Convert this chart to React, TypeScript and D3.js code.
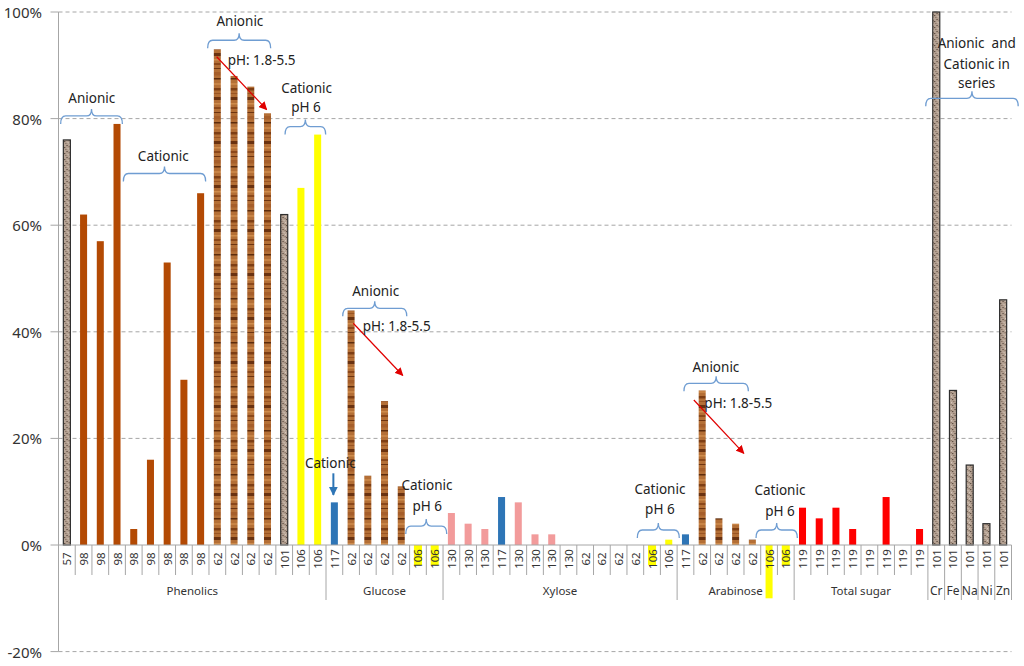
import * as d3 from 'd3';

// categories and values (percent)
const phenolicsCodes = ['57', '98', '98', '98', '98', '98', '98', '98', '98', '62', '62', '62', '62', '101', '106', '106'];
const phenolicsValues = [76, 62, 57, 79, 3, 16, 53, 31, 66, 93, 88, 86, 81, 62, 67, 77];
const glucoseCodes = ['117', '62', '62', '62', '62', '106', '106'];
const glucoseValues = [8, 44, 13, 27, 11, 0, 0];
const xyloseCodes = ['130', '130', '130', '117', '130', '130', '130', '130', '62', '62', '62', '62', '106', '106'];
const xyloseValues = [6, 4, 3, 9, 8, 2, 2, 0, 0, 0, 0, 0, 0, 1];
const arabinoseCodes = ['117', '62', '62', '62', '62', '106', '106'];
const arabinoseValues = [2, 29, 5, 4, 1, -10, 0];
const totalSugarCodes = ['119', '119', '119', '119', '119', '119', '119', '119'];
const totalSugarValues = [7, 5, 7, 3, 0, 9, 0, 3];
const metalNames = ['Cr', 'Fe', 'Na', 'Ni', 'Zn'];
const metalCodes = ['101', '101', '101', '101', '101'];
const metalValues = [100, 29, 15, 4, 46];
const yTicks = [-20, 0, 20, 40, 60, 80, 100];

// annotations, placed in chart units (category index, percent)
const noteTexts = [
    { t: 'Anionic', i: 1.99, v: 83.9 },
    { t: 'Cationic', i: 6.27, v: 73.0 },
    { t: 'Anionic', i: 10.85, v: 98.4 },
    { t: 'pH: 1.8-5.5', i: 12.15, v: 91.0 },
    { t: 'Cationic', i: 14.84, v: 85.8 },
    { t: 'pH 6', i: 14.8, v: 82.1 },
    { t: 'Cationic', i: 16.26, v: 15.4 },
    { t: 'Anionic', i: 18.97, v: 47.7 },
    { t: 'pH: 1.8-5.5', i: 20.23, v: 41.0 },
    { t: 'Cationic', i: 22.04, v: 11.3 },
    { t: 'pH 6', i: 22.06, v: 7.4 },
    { t: 'Cationic', i: 35.97, v: 10.45 },
    { t: 'pH 6', i: 35.97, v: 6.7 },
    { t: 'Anionic', i: 39.32, v: 33.45 },
    { t: 'pH: 1.8-5.5', i: 40.66, v: 26.6 },
    { t: 'Cationic', i: 43.15, v: 10.3 },
    { t: 'pH 6', i: 43.15, v: 6.4 },
    { t: 'Anionic  and', i: 54.92, v: 94.1 },
    { t: 'Cationic in', i: 54.92, v: 90.2 },
    { t: 'series', i: 54.92, v: 86.6 },
];
const noteBraces = [
    { i0: 0.13, i1: 3.82, v: 80.5 },
    { i0: 3.88, i1: 8.8, v: 69.7 },
    { i0: 8.92, i1: 12.69, v: 94.7 },
    { i0: 13.55, i1: 15.98, v: 78.5 },
    { i0: 17.0, i1: 20.83, v: 44.4 },
    { i0: 20.77, i1: 23.22, v: 3.56 },
    { i0: 34.62, i1: 37.13, v: 2.81 },
    { i0: 37.41, i1: 41.26, v: 30.34 },
    { i0: 41.72, i1: 44.19, v: 2.81 },
    { i0: 51.87, i1: 57.4, v: 83.8 },
];
const redArrows = [
    { i0: 9.46, v0: 91.6, i1: 12.45, v1: 81.7 },
    { i0: 17.63, v0: 41.6, i1: 20.59, v1: 31.8 },
    { i0: 38.0, v0: 27.2, i1: 40.99, v1: 17.2 },
];
const blueArrows = [{ i0: 16.44, v0: 13.45, i1: 16.44, v1: 9.4 }];

const FILLS: any = {
    '57': 'url(#granite)',
    '101': 'url(#granite)',
    '98': '#B34A04',
    '62': 'url(#wood)',
    '106': '#FFFF00',
    '117': '#2E75B6',
    '130': '#F29B9B',
    '119': '#FF0000',
};
const FONT = '"Noto Sans", "Open Sans", sans-serif';
const BRACE = '#6F9DD2';

export default function App() {
    const width = 1024;
    const height = 666;
    const left = 58.5;
    const right = 1011.5;

    const groups = [
        { name: 'Phenolics', codes: phenolicsCodes, values: phenolicsValues },
        { name: 'Glucose', codes: glucoseCodes, values: glucoseValues },
        { name: 'Xylose', codes: xyloseCodes, values: xyloseValues },
        { name: 'Arabinose', codes: arabinoseCodes, values: arabinoseValues },
        { name: 'Total sugar', codes: totalSugarCodes, values: totalSugarValues },
        ...metalNames.map((n, k) => ({ name: n, codes: [metalCodes[k]], values: [metalValues[k]] })),
    ];

    const rows: any[] = [];
    const spans: any[] = [];
    groups.forEach((g) => {
        const start = rows.length;
        g.codes.forEach((c, k) => rows.push({ idx: rows.length, code: c, value: g.values[k] }));
        spans.push({ name: g.name, start, end: rows.length });
    });

    const n = rows.length;
    const xBand = d3.scaleBand<number>()
        .domain(rows.map((r) => r.idx))
        .range([left, right])
        .paddingInner(0.58)
        .paddingOuter(0.29);
    const xLin = d3.scaleLinear().domain([0, n]).range([left, right]);
    const y = d3.scaleLinear().domain([-20, 100]).range([651.6, 12]);
    const y0 = y(0);
    const bw = xBand.bandwidth();
    const step = xBand.step();

    const bracePath = (b: any) => {
        const x0 = xLin(b.i0);
        const x1 = xLin(b.i1);
        const yy = y(b.v);
        const xm = (x0 + x1) / 2;
        const r = 5;
        const down = 8;
        const up = 7;
        return `M${x0},${yy + down} Q${x0},${yy} ${x0 + r},${yy} L${xm - r},${yy} Q${xm},${yy} ${xm},${yy - up}`
            + ` Q${xm},${yy} ${xm + r},${yy} L${x1 - r},${yy} Q${x1},${yy} ${x1},${yy + down}`;
    };

    // stripes for the wood fill
    const woodStripes = [
        { y: 0, h: 2.5, c: '#7E3E14' }, { y: 5, h: 1, c: '#9A5423' }, { y: 9, h: 3, c: '#6A3210' },
        { y: 15, h: 1.5, c: '#CF8C4C' }, { y: 19, h: 2, c: '#8C481A' }, { y: 24, h: 1, c: '#6E3410' },
        { y: 28, h: 3.5, c: '#A65E2A' }, { y: 34, h: 1.5, c: '#5E2C0C' }, { y: 39, h: 2, c: '#C88446' },
    ];
    const graniteDots = [
        { x: 0.5, y: 1, c: '#4E3F35' }, { x: 3, y: 0.2, c: '#DCCFC4' }, { x: 4.2, y: 3, c: '#4A3B30' },
        { x: 1.5, y: 4.2, c: '#D6C9BD' }, { x: 2.6, y: 2.1, c: '#7A6656' }, { x: 0.2, y: 5.3, c: '#8A7464' },
        { x: 5.1, y: 5.4, c: '#6A5648' },
    ];

    return (
        <svg width={width} height={height} style={{ position: 'absolute', left: 0, top: 0, fontFamily: FONT }}>
            <defs>
                <pattern id="wood" patternUnits="userSpaceOnUse" width={8} height={44}>
                    <rect width={8} height={44} fill="#B46F36" />
                    {woodStripes.map((s, k) => <rect key={k} x={0} y={s.y} width={8} height={s.h} fill={s.c} />)}
                </pattern>
                <pattern id="granite" patternUnits="userSpaceOnUse" width={6} height={6}>
                    <rect width={6} height={6} fill="#B5A293" />
                    {graniteDots.map((s, k) => <rect key={k} x={s.x} y={s.y} width={1.1} height={1.1} fill={s.c} />)}
                </pattern>
                <marker id="redHead" viewBox="0 0 10 10" refX={9} refY={5} markerWidth={7} markerHeight={7} orient="auto">
                    <path d="M0,0 L10,5 L0,10 z" fill="#E00000" />
                </marker>
                <marker id="blueHead" viewBox="0 0 10 10" refX={9} refY={5} markerWidth={4.5} markerHeight={4.5} orient="auto">
                    <path d="M0,0 L10,5 L0,10 z" fill="#2E75B6" />
                </marker>
            </defs>

            {/* grid */}
            {yTicks.filter((t) => t !== 0).map((t) => (
                <line key={t} x1={left} x2={right} y1={y(t)} y2={y(t)} stroke="#A6A6A6" strokeDasharray="4,3" strokeWidth={1} />
            ))}

            {/* y axis */}
            <line x1={left} x2={left} y1={y(100)} y2={y(-20)} stroke="#A6A6A6" strokeWidth={1} />
            {yTicks.map((t) => (
                <g key={t}>
                    <line x1={left - 8} x2={left} y1={y(t)} y2={y(t)} stroke="#A6A6A6" />
                    <text x={42} y={y(t)} textAnchor="end" dominantBaseline="central" fontSize={15} fill="#333">
                        {t}%
                    </text>
                </g>
            ))}

            {/* label highlights for empty 106 columns */}
            {rows.filter((r) => r.code === '106' && r.value === 0).map((r) => (
                <rect key={'h' + r.idx} x={xBand(r.idx)! - 0.5} y={y0} width={bw + 1} height={20} fill="#FFFF00" />
            ))}

            {/* bars */}
            {rows.map((r) => {
                const outlined = r.code === '57' || r.code === '101';
                const top = y(Math.max(0, r.value));
                const bot = y(Math.min(0, r.value));
                if (bot - top <= 0) return null;
                return (
                    <rect key={r.idx} x={xBand(r.idx)} y={top} width={bw} height={bot - top}
                        fill={FILLS[r.code]} stroke={outlined ? '#2E2E2E' : 'none'} strokeWidth={outlined ? 1.2 : 0} />
                );
            })}

            {/* x axis */}
            <line x1={left} x2={right} y1={y0} y2={y0} stroke="#A6A6A6" />
            {d3.range(n + 1).map((k) => {
                const isGroupEdge = spans.some((s) => s.start === k || s.end === k);
                return (
                    <line key={'s' + k} x1={left + k * step} x2={left + k * step} y1={y0}
                        y2={isGroupEdge ? y0 + 55 : y0 + 30} stroke="#A6A6A6" />
                );
            })}
            {rows.map((r) => {
                const cx = xBand(r.idx)! + bw / 2;
                const cy = y0 + 14;
                return (
                    <text key={'l' + r.idx} x={cx} y={cy} transform={`rotate(-90 ${cx} ${cy})`} textAnchor="middle"
                        dominantBaseline="central" fontSize={11.5} fill="#333">
                        {r.code}
                    </text>
                );
            })}
            {spans.map((s) => (
                <text key={s.name} x={(xLin(s.start) + xLin(s.end)) / 2} y={y0 + 45} textAnchor="middle"
                    dominantBaseline="central" fontSize={s.end - s.start > 1 ? 11.5 : 12} fill="#333">
                    {s.name}
                </text>
            ))}

            {/* annotations */}
            {noteBraces.map((b, k) => (
                <path key={'b' + k} d={bracePath(b)} fill="none" stroke={BRACE} strokeWidth={1.3} />
            ))}
            {redArrows.map((a, k) => (
                <line key={'r' + k} x1={xLin(a.i0)} y1={y(a.v0)} x2={xLin(a.i1)} y2={y(a.v1)}
                    stroke="#E00000" strokeWidth={1.2} markerEnd="url(#redHead)" />
            ))}
            {blueArrows.map((a, k) => (
                <line key={'a' + k} x1={xLin(a.i0)} y1={y(a.v0)} x2={xLin(a.i1)} y2={y(a.v1)}
                    stroke="#2E75B6" strokeWidth={2} markerEnd="url(#blueHead)" />
            ))}
            {noteTexts.map((t, k) => (
                <text key={'t' + k} x={xLin(t.i)} y={y(t.v)} textAnchor="middle" dominantBaseline="central"
                    fontSize={13.5} fill="#222" style={{ whiteSpace: 'pre' }}>
                    {t.t}
                </text>
            ))}
        </svg>
    );
}
